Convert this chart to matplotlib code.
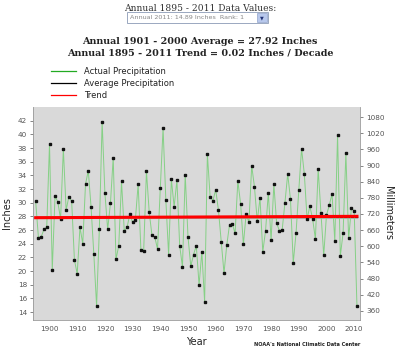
import matplotlib
matplotlib.use("Agg")
from matplotlib import pyplot as plt
from matplotlib.patches import Rectangle
from matplotlib.lines import Line2D

years = list(range(1895, 2012))
precip = [30.2, 24.9, 25.0, 26.1, 26.4, 38.6, 20.2, 31.0, 30.1, 27.6,
          37.9, 28.9, 30.9, 30.2, 21.6, 19.6, 26.4, 24.0, 32.7, 34.7,
          29.4, 22.5, 14.9, 26.2, 41.85, 31.4, 26.1, 29.9, 36.6, 21.7,
          23.7, 33.1, 25.8, 26.4, 28.3, 27.1, 27.5, 32.7, 23.1, 23.0,
          34.6, 28.6, 25.2, 25.0, 23.2, 32.1, 40.9, 30.4, 22.4, 33.4,
          29.4, 33.3, 23.7, 20.6, 34.1, 25.0, 20.7, 22.4, 23.7, 17.95,
          22.8, 15.5, 37.1, 30.8, 30.3, 31.9, 28.9, 24.3, 19.7, 23.8,
          26.8, 26.9, 25.5, 33.2, 29.8, 23.9, 28.4, 27.1, 35.4, 32.3,
          27.3, 30.7, 22.8, 25.9, 31.4, 24.5, 32.7, 27.0, 25.9, 26.0,
          30.0, 34.2, 30.5, 21.2, 25.5, 31.8, 37.9, 34.2, 27.6, 29.5,
          27.6, 24.7, 34.9, 28.5, 22.3, 28.2, 29.6, 31.3, 24.4, 39.9,
          22.2, 25.6, 37.2, 24.8, 29.2, 28.8, 14.89]
average = 27.92
trend_years = [1895, 2011]
trend_vals = [27.8, 28.0]

yticks = list(range(14, 43, 2))
mm_ticks = list(range(360, 1081, 60))
xticks = list(range(1900, 2011, 10))

fig = plt.figure(figsize=(4.0, 3.51), dpi=100)
fig.patch.set_facecolor("white")

# header
fig.text(0.5, 0.977, "Annual 1895 - 2011 Data Values:", ha="center", va="center",
         family="DejaVu Serif", fontsize=6.6, color="#333333")
fig.patches.append(Rectangle((127 / 400, 1 - 23 / 351), 141 / 400, 11 / 351,
                             transform=fig.transFigure, facecolor="white",
                             edgecolor="#8a9ab5", linewidth=0.6))
fig.patches.append(Rectangle((257 / 400, 1 - 22 / 351), 10 / 400, 9 / 351,
                             transform=fig.transFigure, facecolor="#b8c8ec",
                             edgecolor="#7f93c0", linewidth=0.4))
fig.text(130 / 400, 1 - 17.5 / 351, "Annual 2011: 14.89 Inches  Rank: 1",
         ha="left", va="center", fontsize=4.6, color="#888888")
fig.text(262 / 400, 1 - 17.5 / 351, "\u25bc", ha="center", va="center",
         fontsize=3.5, color="#223377")
fig.text(0.5, 1 - 41 / 351, "Annual 1901 - 2000 Average = 27.92 Inches",
         ha="center", va="center", family="DejaVu Serif", fontsize=6.9,
         fontweight="bold", color="#222222")
fig.text(0.5, 1 - 53 / 351, "Annual 1895 - 2011 Trend = 0.02 Inches / Decade",
         ha="center", va="center", family="DejaVu Serif", fontsize=6.9,
         fontweight="bold", color="#222222")

# legend
leg = [("Actual Precipitation", "#22aa22", 71),
       ("Average Precipitation", "black", 83),
       ("Trend", "red", 95)]
for label, col, ypix in leg:
    fig.lines.append(Line2D([51 / 400, 76 / 400], [1 - ypix / 351, 1 - ypix / 351],
                            transform=fig.transFigure, color=col, linewidth=0.9))
    fig.text(84 / 400, 1 - ypix / 351, label, ha="left", va="center",
             fontsize=6, color="#222222")

ax = fig.add_axes([33.3 / 400, 31 / 351, 326.7 / 400, 213 / 351])
ax.set_facecolor("#d9d9d9")
ax.plot(trend_years, [average, average], color="black", linewidth=1.0, zorder=2)
ax.plot(years, precip, color="#86d086", linewidth=0.7, zorder=3)
ax.plot(years, precip, linestyle="none", marker="s", markersize=1.6,
        color="#111111", zorder=4)
ax.plot(trend_years, trend_vals, color="#ff0000", linewidth=2.2, zorder=5)

ax.set_xlim(1894.15, 2012.1)
ax.set_ylim(12.83, 44.0)
ax.set_xticks(xticks)
ax.set_yticks(yticks)
ax.tick_params(axis="both", labelsize=5.2, colors="#555555", length=2.5,
               width=0.5, pad=2)
ax.tick_params(axis="x", length=0, pad=4)
for s in ["top", "right"]:
    ax.spines[s].set_visible(False)
for s in ["left", "bottom"]:
    ax.spines[s].set_color("#999999")
    ax.spines[s].set_linewidth(0.6)
ax.set_ylabel("Inches", fontsize=7, color="#222222", labelpad=4)
ax.set_xlabel("Year", fontsize=7, color="#222222", labelpad=4)

ax2 = ax.twinx()
ax2.set_ylim(12.83 * 25.4, 44.0 * 25.4)
ax2.set_yticks(mm_ticks)
ax2.tick_params(axis="y", labelsize=5.2, colors="#555555", length=2.5,
                width=0.5, pad=2)
for s in ["top", "left", "bottom"]:
    ax2.spines[s].set_visible(False)
ax2.spines["right"].set_color("#999999")
ax2.spines["right"].set_linewidth(0.6)
ax2.set_ylabel("Millimeters", fontsize=7, color="#222222", rotation=270,
               labelpad=6)

fig.text(360 / 400, 1 - 345 / 351, "NOAA's National Climatic Data Center",
         ha="right", va="center", fontsize=3.6, fontweight="bold",
         color="#222222")

fig.savefig("out.png", dpi=100)
